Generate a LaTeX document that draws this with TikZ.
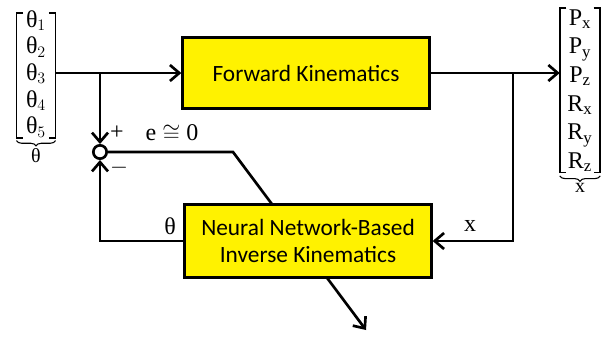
\documentclass[tikz,border=0pt]{standalone}
\usepackage{amsmath}
\usepackage{fontspec}
\setmainfont{Carlito}
\newfontfamily\serifsym{Liberation Serif}
\usetikzlibrary{arrows.meta,decorations.pathreplacing,positioning}

\tikzset{
  block/.style={draw, line width=2pt, fill=yellow, minimum width=185pt,
    minimum height=53pt, align=center, font=\fontsize{17.5}{20}\selectfont},
  flow/.style={line width=2pt, -{Straight Barb[length=7pt,width=12pt]}},
  sumnode/.style={draw, circle, line width=2pt, inner sep=0pt, minimum size=10pt, fill=white},
  bracket/.style={line width=1.2pt},
  vecbrace/.style={decorate, decoration={brace, mirror, amplitude=4pt}, line width=0.8pt},
  sym/.style={font=\serifsym\fontsize{18}{20}\selectfont},
  vec/.style={sym, inner sep=0pt, minimum width=#1}
}

\begin{document}
\begin{tikzpicture}[x=0.75pt,y=-0.75pt]
    \useasboundingbox (0,0) rectangle (611,336);

    % input and output vectors
    \node[vec=29pt] (theta vec) at (36,75)
      {\begin{tabular}{@{}c@{}}θ$_1$\\ θ$_2$\\ θ$_3$\\ θ$_4$\\ θ$_5$\end{tabular}};
    \node[vec=30pt] (x vec) at (580,91)
      {\fontsize{18}{21.5}\selectfont\begin{tabular}{@{}c@{}}P$_{\text{x}}$\\ P$_{\text{y}}$\\ P$_{\text{z}}$\\ R$_{\text{x}}$\\ R$_{\text{y}}$\\ R$_{\text{z}}$\end{tabular}};
    \draw[bracket] ([xshift=5pt,yshift=-3.5pt]theta vec.north west) -| ([yshift=3pt]theta vec.south west) -- ++(5pt,0);
    \draw[bracket] ([xshift=-5pt,yshift=-3.5pt]theta vec.north east) -| ([yshift=3pt]theta vec.south east) -- ++(-5pt,0);
    \draw[bracket] ([xshift=5pt,yshift=-2.5pt]x vec.north west) -| ([yshift=3.5pt]x vec.south west) -- ++(5pt,0);
    \draw[bracket] ([xshift=-5pt,yshift=-2.5pt]x vec.north east) -| ([yshift=3.5pt]x vec.south east) -- ++(-5pt,0);
    \draw[vecbrace] ([yshift=1pt]theta vec.south west) -- ([yshift=1pt]theta vec.south east)
      node[sym, midway, below=2pt, font=\serifsym\fontsize{15}{18}\selectfont] (theta lbl) {θ};
    \draw[vecbrace] ([yshift=1pt]x vec.south west) -- ([yshift=1pt]x vec.south east)
      node[sym, midway, below=2pt, font=\serifsym\fontsize{15}{18}\selectfont] (x lbl) {x};

    % error path to the learning block
    \node[sumnode] (sum) at (100,152) {};
    \coordinate (bend) at (233,152);
    \coordinate (adapt tip) at (366,330);
    \draw[flow] (sum.east) -- (bend) -- (adapt tip);

    % blocks
    \node[block] (fk) at (306,73) {Forward Kinematics};
    \node[block, minimum height=55pt] (nn) at (308,241) {Neural Network-Based\\ Inverse Kinematics};

    \coordinate (tap left)  at (100,73);
    \coordinate (tap right) at (513,73);

    \draw[flow] (theta vec.east |- fk.west) -- (fk.west);
    \draw[flow] (fk.east) -- (x vec.west |- fk.east);
    \draw[flow] (tap left) -- (sum.north);
    \draw[flow] (tap right) |- (nn.east);
    \draw[flow] (nn.west) -| (sum.south);

    \node[sym] (plus)  at (117,133) {+};
    \node[sym] (minus) at (119,168) {$-$};
    \node[sym] (err)   at (172,133) {e $\cong$ 0};
    \node[sym] (fb lbl) at (170,226) {θ};
    \node[sym] (x in)  at (470,226) {x};
  \end{tikzpicture}
\end{document}
